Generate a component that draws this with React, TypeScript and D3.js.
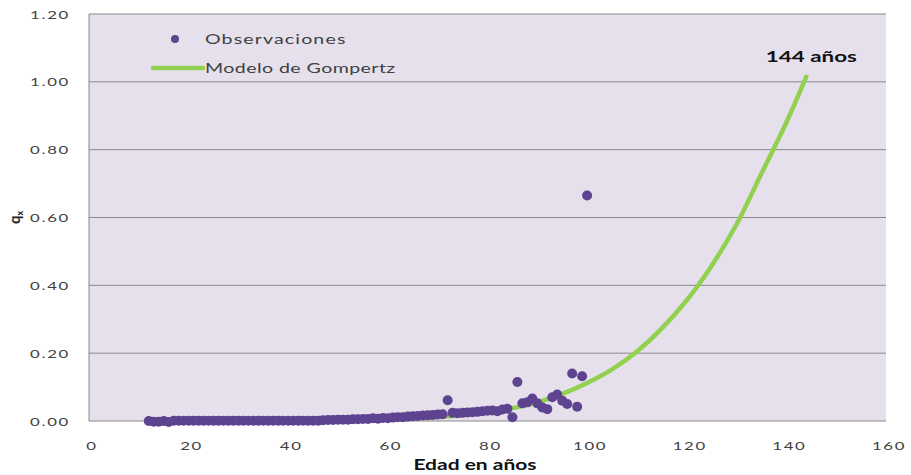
import React from "react";
import * as d3 from "d3";

const obsAges = [
  12, 13, 14, 15, 16, 17, 18, 19, 20, 21, 22, 23, 24, 25, 26, 27, 28, 29, 30, 31,
  32, 33, 34, 35, 36, 37, 38, 39, 40, 41, 42, 43, 44, 45, 46, 47, 48, 49, 50, 51,
  52, 53, 54, 55, 56, 57, 58, 59, 60, 61, 62, 63, 64, 65, 66, 67, 68, 69, 70, 71,
  72, 73, 74, 75, 76, 77, 78, 79, 80, 81, 82, 83, 84, 85, 86, 87, 88, 89, 90, 91,
  92, 93, 94, 95, 96, 97, 98, 99, 100,
];
const obsQ = [
  0.0, -0.002, -0.002, 0.0, -0.003, 0.001, 0.001, 0.001, 0.001, 0.001, 0.001, 0.001, 0.001, 0.001, 0.001, 0.001, 0.001, 0.001, 0.001, 0.001,
  0.001, 0.001, 0.001, 0.001, 0.001, 0.001, 0.001, 0.001, 0.001, 0.001, 0.001, 0.001, 0.001, 0.001, 0.001, 0.002, 0.003, 0.003, 0.004, 0.004,
  0.004, 0.005, 0.005, 0.006, 0.006, 0.008, 0.007, 0.009, 0.008, 0.01, 0.011, 0.011, 0.013, 0.014, 0.015, 0.016, 0.017, 0.018, 0.019, 0.02,
  0.061, 0.024, 0.023, 0.024, 0.025, 0.026, 0.027, 0.029, 0.03, 0.031, 0.029, 0.034, 0.036, 0.011, 0.115, 0.052, 0.055, 0.066, 0.052, 0.04,
  0.035, 0.07, 0.078, 0.06, 0.05, 0.14, 0.042, 0.132, 0.665,
];

const modelAges = [12, 20, 30, 40, 50, 60, 70, 80, 85, 90, 95, 100, 105, 110, 115, 120, 125, 130, 135, 140, 144];
const modelQ = [
  0.0001, 0.0002, 0.0005, 0.0012, 0.0025, 0.0055, 0.012, 0.026, 0.038, 0.055, 0.08, 0.112, 0.152, 0.205, 0.273,
  0.356, 0.458, 0.58, 0.73, 0.88, 1.015,
];

const xTicks = [0, 20, 40, 60, 80, 100, 120, 140, 160];
const yTicks = [0, 0.2, 0.4, 0.6, 0.8, 1.0, 1.2];

const seriesNames = ["Observaciones", "Modelo de Gompertz"];
const xTitle = "Edad en años";
const endLabel = "144 años";

const W = 911;
const H = 475;
const SX = 1.4;

function SText({ x, y, anchor = "start", size, weight = 400, fill = "#404040", spacing = 0, family = "Lato", children }: any) {
  return (
    <g transform={`translate(${x},${y}) scale(${SX},1)`}>
      <text
        x={0}
        y={0}
        textAnchor={anchor}
        fontSize={size}
        fontWeight={weight}
        fill={fill}
        fontFamily={family}
        letterSpacing={spacing}
      >
        {children}
      </text>
    </g>
  );
}

export default function App() {
  const x = d3.scaleLinear().domain([0, 160]).range([89, 886]);
  const y = d3.scaleLinear().domain([0, 1.2]).range([421, 14]);

  const model = modelAges.map((a, i) => [a, modelQ[i]] as [number, number]);
  const line = d3
    .line<[number, number]>()
    .x((d) => x(d[0]))
    .y((d) => y(d[1]))
    .curve(d3.curveCatmullRom.alpha(0.5));

  return (
    <svg width={W} height={H} style={{ position: "absolute", left: 0, top: 0, background: "#fff" }}>
      <rect x={x(0)} y={y(1.2)} width={x(160) - x(0)} height={y(0) - y(1.2)} fill="#E5E0EC" />
      {yTicks.filter((t) => t > 0).map((t) => (
        <line key={t} x1={x(0)} x2={x(160)} y1={y(t)} y2={y(t)} stroke="#8a8a8a" strokeWidth={1} />
      ))}
      <line x1={x(0)} x2={x(0)} y1={y(1.2)} y2={y(0)} stroke="#8a8a8a" strokeWidth={1} />
      <line x1={x(0)} x2={x(160)} y1={y(0)} y2={y(0)} stroke="#8a8a8a" strokeWidth={1} />

      {yTicks.map((t) => (
        <SText key={t} x={70} y={y(t) + 4.5} anchor="end" size={12} spacing={1.2}>
          {t.toFixed(2)}
        </SText>
      ))}
      {xTicks.map((t) => (
        <SText key={t} x={x(t) + 3} y={450} anchor="middle" size={12} spacing={1.2}>
          {String(t)}
        </SText>
      ))}

      <SText x={475} y={470} anchor="middle" size={15} weight={700} fill="#111">
        {xTitle}
      </SText>

      <g transform={`translate(20,${y(0.6)}) rotate(-90)`}>
        <text textAnchor="middle" fontSize={15} fontWeight={700} fill="#222" fontFamily="Lato">
          q<tspan fontSize={9} dy={3}>x</tspan>
        </text>
      </g>

      <path d={line(model) || ""} fill="none" stroke="#92D050" strokeWidth={4.5} strokeLinecap="round" />

      {obsAges.map((a, i) => (
        <circle key={a} cx={x(a)} cy={y(obsQ[i])} r={5} fill="#5E4391" />
      ))}

      <SText x={x(144) + 5} y={62} anchor="middle" size={16} weight={700} fill="#111">
        {endLabel}
      </SText>

      <circle cx={175} cy={39} r={4} fill="#5E4391" />
      <SText x={205} y={44} size={14} spacing={0.8}>
        {seriesNames[0]}
      </SText>
      <line x1={153} x2={203} y1={68} y2={68} stroke="#92D050" strokeWidth={4.5} strokeLinecap="round" />
      <SText x={205} y={73} size={14} spacing={0.3}>
        {seriesNames[1]}
      </SText>
    </svg>
  );
}
